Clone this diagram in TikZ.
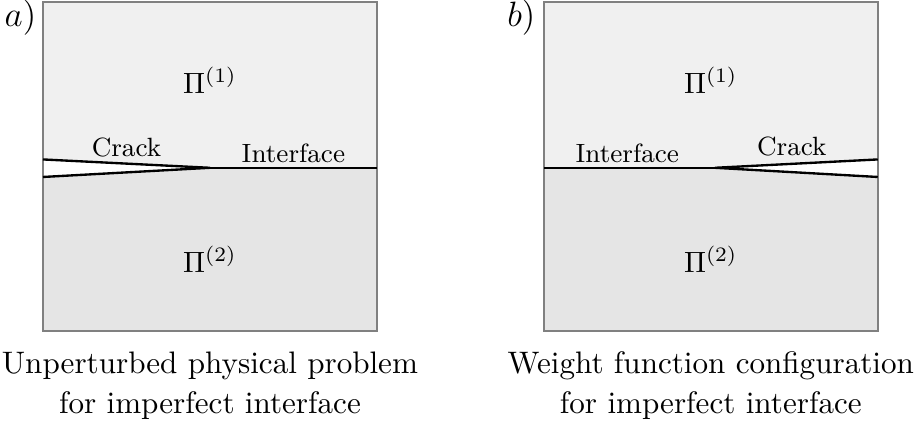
\documentclass[tikz,border=0pt]{standalone}
\begin{document}
\begin{tikzpicture}[every node/.style={font=\normalsize}]
  \useasboundingbox (-0.515,-1.2) rectangle (10.47,3.96);
  % a) unperturbed physical problem
  \fill[gray!12] (0,1.95) rectangle (4,3.94);
  \fill[gray!20] (0,0) rectangle (4,1.95);
  \coordinate (tipA) at (2,1.95);
  \coordinate (upA) at (0,2.05); \coordinate (loA) at (0,1.84);
  \coordinate (endA) at (4,1.95);
  \fill[white] (upA) -- (tipA) -- (loA) -- cycle;
  \draw[gray,line width=0.7pt] (0,0) rectangle (4,3.94);
  \draw[line width=0.8pt] (upA) -- (tipA) -- (loA);
  \draw[line width=0.8pt] (tipA) -- (endA);
  \node[font=\large] (labA) at (-0.27,3.75) {$a)$};
  \node (piA1) at (2,3.0) {$\Pi^{(1)}$};
  \node (piA2) at (2,0.85) {$\Pi^{(2)}$};
  \node[anchor=base,font=\small] (crackA) at (1,2.08) {Crack};
  \node[anchor=base,font=\small] (ifaceA) at (3,2.01) {Interface};
  \node[align=center,anchor=north,font=\fontsize{10.6pt}{13.6pt}\selectfont] (capA) at (2,-0.13) {Unperturbed physical problem\\for imperfect interface};
  % b) weight function configuration
  \fill[gray!12] (6,1.95) rectangle (10,3.94);
  \fill[gray!20] (6,0) rectangle (10,1.95);
  \coordinate (tipB) at (8.05,1.95);
  \coordinate (upB) at (10,2.05); \coordinate (loB) at (10,1.84);
  \coordinate (endB) at (6,1.95);
  \fill[white] (upB) -- (tipB) -- (loB) -- cycle;
  \draw[gray,line width=0.7pt] (6,0) rectangle (10,3.94);
  \draw[line width=0.8pt] (upB) -- (tipB) -- (loB);
  \draw[line width=0.8pt] (tipB) -- (endB);
  \node[font=\large] (labB) at (5.73,3.75) {$b)$};
  \node (piB1) at (8,3.0) {$\Pi^{(1)}$};
  \node (piB2) at (8,0.85) {$\Pi^{(2)}$};
  \node[anchor=base,font=\small] (ifaceB) at (7,2.01) {Interface};
  \node[anchor=base,font=\small] (crackB) at (8.97,2.1) {Crack};
  \node[align=center,anchor=north,font=\fontsize{10.6pt}{13.6pt}\selectfont] (capB) at (8,-0.13) {Weight function configuration\\for imperfect interface};
\end{tikzpicture}
\end{document}
